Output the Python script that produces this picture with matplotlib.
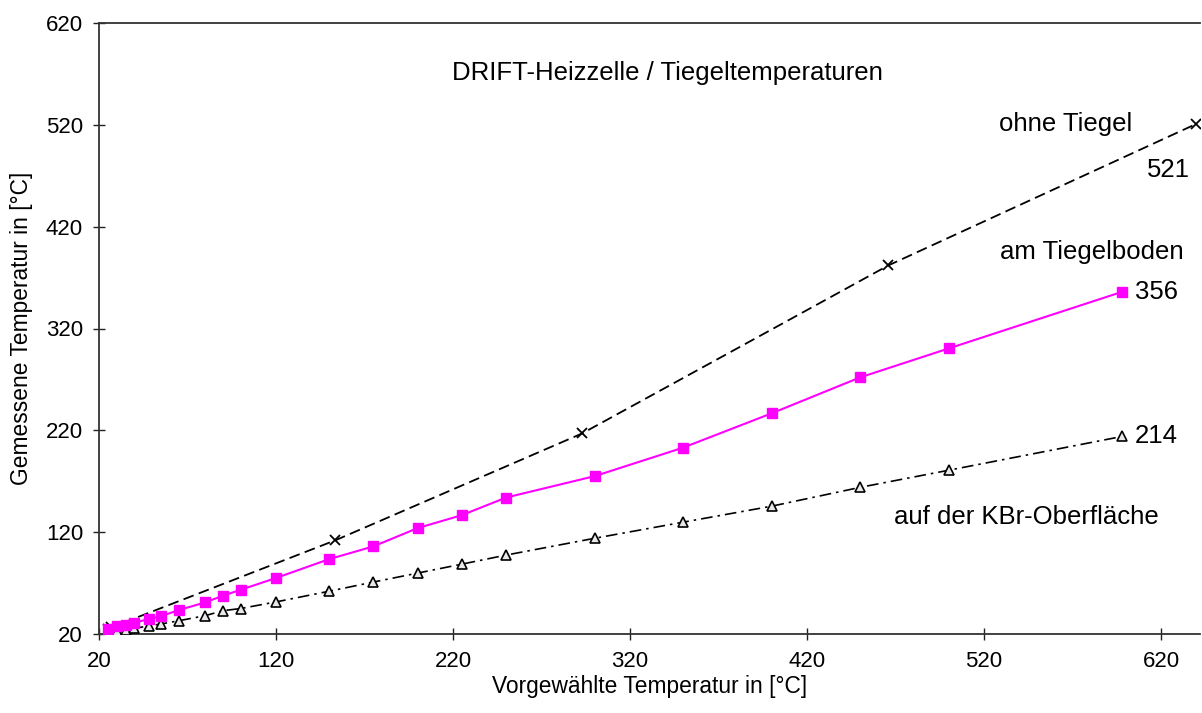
import matplotlib
matplotlib.use("Agg")
import matplotlib.pyplot as plt

plt.rcParams['font.family'] = ['Liberation Sans', 'DejaVu Sans']

# ohne Tiegel
x_ohne = [25, 27, 153.5, 293, 466, 640]
y_ohne = [25, 26.5, 112, 217, 382, 521]

# am Tiegelboden / auf der KBr-Oberflaeche (same preset temperatures)
x_set = [25, 30, 35, 40, 48, 55, 65, 80, 90, 100, 120, 150, 175, 200, 225, 250,
         300, 350, 400, 450, 500, 598]
y_boden = [25, 27.5, 29, 31, 34.7, 37.4, 43.5, 51, 57.6, 63.4, 75, 93.5, 106, 124,
           136.7, 154, 175, 203, 236.7, 272, 300.4, 356]
y_kbr = [21.6, 23.3, 24.2, 25.5, 28, 29.8, 33, 38, 42.9, 45, 51.5, 62, 71, 79.8,
         88.6, 97.5, 114, 129.8, 145.5, 164, 180.8, 214]

ticks = [20, 120, 220, 320, 420, 520, 620]

fig = plt.figure(figsize=(12.02, 7.13), dpi=100)
ax = fig.add_axes([99 / 1202, 79 / 713, 1101 / 1202, 611 / 713])

ax.plot(x_ohne, y_ohne, color='black', ls=(0, (6, 3)), lw=1.3,
        marker='x', ms=7, mew=1.3, zorder=3)
ax.plot(x_set, y_boden, color='#ff00ff', ls='-', lw=1.5,
        marker='s', ms=7.5, mfc='#ff00ff', mec='#ff00ff', zorder=4)
ax.plot(x_set, y_kbr, color='black', ls=(0, (7, 3, 1.5, 3)), lw=1.2,
        marker='^', ms=7, mfc='#e8e8e8', mec='black', mew=1.2, zorder=3)

ax.set_xlim(20, 642)
ax.set_ylim(20, 620)
ax.set_xticks(ticks)
ax.set_yticks(ticks)
ax.tick_params(direction='inout', length=9, width=1, labelsize=16, colors='#222222',
               labelcolor='black')
ax.tick_params(axis='x', pad=8)
ax.tick_params(axis='y', pad=7)
for s in ['left', 'bottom', 'top']:
    ax.spines[s].set_color('#333333')
    ax.spines[s].set_linewidth(1.3)
ax.spines['right'].set_visible(False)

ax.set_xlabel('Vorgewählte Temperatur in [°C]', fontsize=16.4, labelpad=2)
ax.set_ylabel('Gemessene Temperatur in [°C]', fontsize=16.4, labelpad=9)

fs = 18.5
ax.text(341, 571, 'DRIFT-Heizzelle / Tiegeltemperaturen', fontsize=fs,
        ha='center', va='center')
ax.text(566, 521, 'ohne Tiegel', fontsize=fs, ha='center', va='center')
ax.text(624, 476, '521', fontsize=fs, ha='center', va='center')
ax.text(581, 395, 'am Tiegelboden', fontsize=fs, ha='center', va='center')
ax.text(605, 356, '356', fontsize=fs, ha='left', va='center')
ax.text(605, 214, '214', fontsize=fs, ha='left', va='center')
ax.text(544, 135, 'auf der KBr-Oberfläche', fontsize=fs, ha='center', va='center')

fig.savefig('out.png', dpi=100)
